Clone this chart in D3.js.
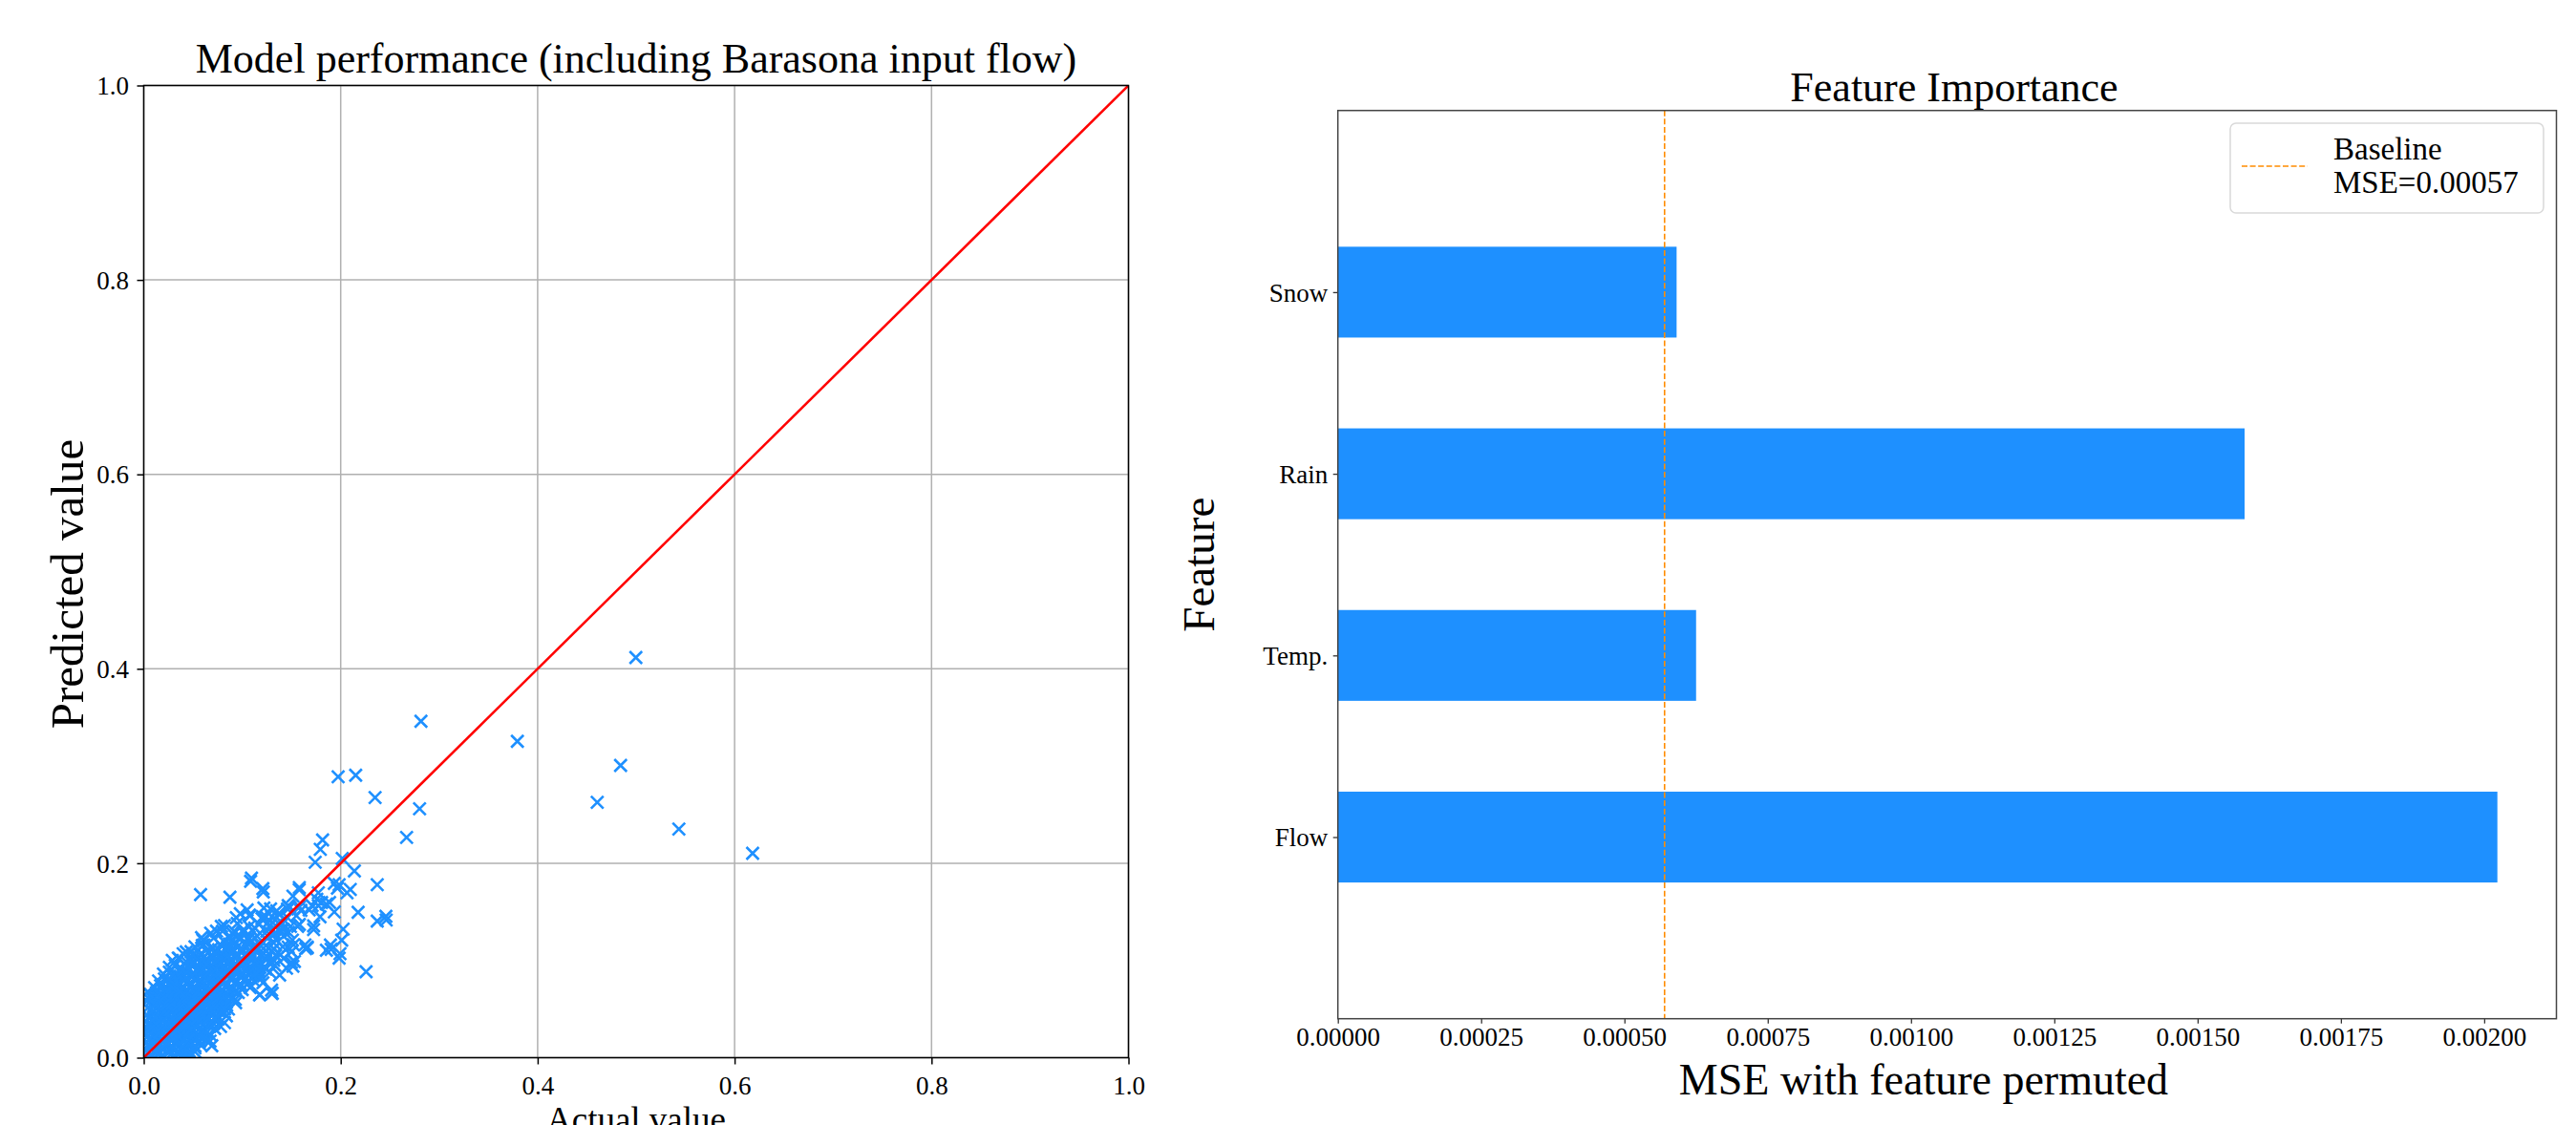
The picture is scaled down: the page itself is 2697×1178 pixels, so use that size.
<!DOCTYPE html>
<html>
<head>
<meta charset="utf-8">
<script src="https://cdn.jsdelivr.net/npm/d3@7"></script>
<style>
  body { margin: 0; background: #ffffff; }
  text { font-family: "Liberation Serif", "Times New Roman", serif; fill: #000; }
</style>
</head>
<body>
<div id="grafico"></div>
<script>
// ---- Datos ----
// Puntos [valor real, valor predicho]
const scatterPoints = [
  // nube densa cerca del origen
  [.002,.003],[.008,.001],[.014,.004],[.019,.002],[.025,.005],[.031,.002],[.036,.004],[.042,.001],[.047,.003],[.052,.006],
  [.001,.009],[.006,.011],[.012,.008],[.018,.010],[.023,.012],[.029,.009],[.035,.011],[.041,.008],[.046,.012],[.052,.010],[.058,.013],
  [.003,.016],[.009,.018],[.015,.015],[.021,.017],[.027,.019],[.033,.016],[.039,.018],[.045,.015],[.051,.019],[.057,.017],[.064,.020],
  [.001,.023],[.007,.025],[.013,.022],[.019,.024],[.025,.026],[.031,.023],[.037,.025],[.043,.022],[.049,.026],[.055,.024],[.061,.027],[.068,.023],
  [.004,.030],[.010,.032],[.016,.029],[.022,.031],[.028,.033],[.034,.030],[.040,.032],[.046,.029],[.052,.033],[.058,.031],[.065,.034],[.072,.030],[.078,.032],
  [.002,.037],[.008,.039],[.014,.036],[.020,.038],[.026,.040],[.032,.037],[.038,.039],[.044,.036],[.050,.040],[.056,.038],[.062,.041],[.069,.037],[.076,.040],[.082,.036],
  [.003,.044],[.009,.046],[.015,.043],[.021,.045],[.027,.047],[.033,.044],[.039,.046],[.045,.043],[.051,.047],[.057,.045],[.063,.048],[.070,.044],[.077,.047],[.084,.043],
  [.004,.051],[.010,.053],[.017,.050],[.023,.052],[.029,.054],[.035,.051],[.041,.053],[.047,.050],[.053,.054],[.059,.052],[.065,.055],[.071,.051],[.078,.054],[.086,.050],
  [.003,.058],[.009,.060],[.016,.057],[.022,.059],[.028,.061],[.034,.058],[.040,.060],[.046,.057],[.052,.061],[.058,.059],[.064,.062],[.070,.058],[.077,.061],[.084,.057],[.093,.060],
  [.007,.065],[.013,.067],[.019,.064],[.025,.066],[.031,.068],[.037,.065],[.043,.067],[.049,.064],[.055,.068],[.061,.066],[.067,.069],[.073,.065],[.080,.068],[.087,.064],[.096,.067],[.118,.065],[.130,.066],
  [.011,.072],[.017,.074],[.023,.071],[.029,.073],[.035,.075],[.041,.072],[.047,.074],[.053,.071],[.059,.075],[.065,.073],[.071,.076],[.077,.072],[.084,.075],[.091,.071],[.099,.074],[.108,.072],
  [.015,.079],[.021,.081],[.027,.078],[.033,.080],[.039,.082],[.045,.079],[.051,.081],[.057,.078],[.063,.082],[.069,.080],[.075,.083],[.081,.079],[.088,.082],[.095,.078],[.103,.081],[.112,.079],[.121,.077],
  [.020,.086],[.026,.088],[.032,.085],[.038,.087],[.044,.089],[.050,.086],[.056,.088],[.062,.085],[.068,.089],[.074,.087],[.080,.090],[.086,.086],[.093,.089],[.100,.085],[.108,.088],[.117,.086],[.128,.088],[.138,.085],
  [.026,.093],[.032,.095],[.038,.092],[.044,.094],[.050,.096],[.056,.093],[.062,.095],[.068,.092],[.074,.096],[.080,.094],[.086,.097],[.092,.093],[.099,.096],[.106,.092],[.114,.095],[.123,.093],[.133,.095],[.145,.092],
  [.029,.100],[.036,.102],[.043,.099],[.049,.101],[.056,.103],[.063,.100],[.070,.102],[.077,.099],[.083,.103],[.089,.101],[.095,.104],[.101,.100],[.108,.103],[.115,.099],[.123,.102],[.132,.100],[.142,.102],[.153,.099],
  [.040,.107],[.048,.109],[.057,.106],[.065,.108],[.073,.110],[.080,.107],[.087,.109],[.094,.106],[.101,.110],[.108,.108],[.115,.111],[.122,.107],[.130,.110],[.139,.106],[.150,.109],
  [.052,.114],[.061,.116],[.070,.113],[.079,.115],[.087,.117],[.095,.114],[.103,.116],[.110,.113],[.117,.117],[.124,.115],[.132,.118],[.141,.114],[.152,.116],[.166,.113],
  [.060,.121],[.071,.123],[.081,.120],[.090,.122],[.098,.124],[.106,.121],[.113,.123],[.120,.120],[.127,.124],[.134,.122],[.142,.125],[.151,.121],
  [.068,.128],[.080,.130],[.091,.127],[.101,.129],[.110,.131],[.118,.128],[.125,.130],[.132,.127],[.139,.131],[.147,.129],
  [.082,.136],[.095,.138],[.107,.135],[.117,.137],[.126,.139],[.134,.136],[.141,.138],[.149,.135],[.158,.137],
  [.094,.144],[.108,.146],[.120,.143],[.130,.145],[.138,.147],[.146,.144],[.155,.146],
  [.105,.152],[.122,.154],[.135,.151],[.146,.153],[.158,.155],[.168,.152],
  // nucleo de la nube (puntos intercalados)
  [.005,.005],[.011,.007],[.017,.005],[.023,.007],[.029,.005],[.035,.007],[.041,.005],[.046,.007],
  [.004,.013],[.010,.014],[.016,.012],[.022,.014],[.028,.012],[.034,.014],[.040,.012],[.046,.014],[.052,.012],
  [.006,.020],[.012,.021],[.018,.019],[.024,.021],[.030,.019],[.036,.021],[.042,.019],[.048,.021],[.054,.019],[.059,.021],
  [.004,.027],[.010,.028],[.016,.026],[.022,.028],[.028,.026],[.034,.028],[.041,.026],[.047,.028],[.053,.026],[.059,.028],[.064,.026],
  [.006,.034],[.012,.035],[.019,.033],[.025,.035],[.031,.033],[.037,.035],[.043,.033],[.049,.035],[.055,.033],[.061,.035],[.067,.033],[.071,.035],
  [.006,.041],[.012,.042],[.018,.040],[.024,.042],[.030,.040],[.036,.042],[.042,.040],[.048,.042],[.054,.040],[.060,.042],[.066,.040],[.073,.042],
  [.009,.048],[.015,.049],[.021,.047],[.027,.049],[.033,.047],[.040,.049],[.046,.047],[.052,.049],[.058,.047],[.064,.049],[.070,.047],[.076,.049],[.081,.047],
  [.011,.055],[.017,.056],[.023,.054],[.029,.056],[.035,.054],[.041,.056],[.047,.054],[.053,.056],[.059,.054],[.065,.056],[.071,.054],[.077,.056],[.084,.054],
  [.015,.062],[.021,.063],[.027,.061],[.033,.063],[.039,.061],[.045,.063],[.051,.061],[.057,.063],[.063,.061],[.069,.063],[.075,.061],[.082,.063],[.089,.061],
  [.019,.069],[.025,.070],[.031,.068],[.037,.070],[.043,.068],[.049,.070],[.055,.068],[.061,.070],[.067,.068],[.073,.070],[.079,.068],[.086,.070],[.093,.068],[.100,.070],
  [.025,.076],[.031,.077],[.037,.075],[.043,.077],[.049,.075],[.055,.077],[.061,.075],[.067,.077],[.073,.075],[.079,.077],[.085,.075],[.092,.077],[.099,.075],[.106,.077],
  [.031,.083],[.037,.084],[.043,.082],[.049,.084],[.055,.082],[.061,.084],[.067,.082],[.073,.084],[.079,.082],[.085,.084],[.091,.082],[.097,.084],[.104,.082],[.111,.084],[.118,.082],
  [.040,.090],[.047,.091],[.054,.089],[.061,.091],[.067,.089],[.073,.091],[.079,.089],[.085,.091],[.091,.089],[.097,.091],[.103,.089],[.110,.091],[.117,.089],[.124,.091],
  [.050,.097],[.057,.098],[.064,.096],[.071,.098],[.078,.096],[.085,.098],[.092,.096],[.099,.098],[.106,.096],[.113,.098],[.120,.096],[.127,.098],
  [.062,.104],[.070,.105],[.078,.103],[.086,.105],[.094,.103],[.102,.105],[.110,.103],[.118,.105],[.126,.103],[.134,.105],
  [.076,.111],[.084,.112],[.092,.110],[.100,.112],[.108,.110],[.116,.112],[.124,.110],[.132,.112],
  // borde de la nube
  [.0044,.0614],[.0351,.1024],[.0432,.1088],[.0497,.1056],[.0594,.1154],[.0723,.1073],[.0852,.1138],[.0917,.1171],[.0981,.1105],
  [.0254,.081],[.0286,.0729],[.0367,.068],[.1515,.0941],[.1467,.1138],[.166,.1138],[.1305,.0663],[.1176,.0646],[.0933,.0565],
  [.082,.0499],[.0691,.0123],[.0561,.0221],[.0642,.0172],[.048,.0041],[.0723,.0401],[.1855,.1105],
  [.1085,.1815],[.1214,.1704],[.0981,.1481],[.1072,.1466],[.1288,.153],[.137,.1481],[.124,.1449],[.1467,.1564],[.0788,.1351],
  [.0739,.1302],[.0917,.1302],[.1014,.1318],[.1127,.1334],[.0885,.1236],[.0981,.122],[.1062,.1236],[.137,.1383],[.1418,.1318],
  [.1563,.1351],[.0609,.1203],[.1208,.1449],[.1273,.1351],
  [.1935,.1793],[.1967,.1744],[.2064,.1695],[.1773,.1695],[.1579,.1727],[.1515,.1662],[.1757,.1629],[.1806,.1596],[.1855,.158],
  [.1887,.1596],[.1773,.1564],[.1709,.1564],[.1596,.1515],[.179,.1449],[.1482,.1547],[.1725,.1318],[.1644,.1122],[.1903,.1115],
  [.1984,.1024],[.2462,.1416],
  // puntos aislados
  [.2815,.346],[.1974,.289],[.2152,.2905],[.2349,.2675],[.2801,.256],[.2669,.2266],[.1816,.224],[.1793,.2142],[.1741,.201],
  [.2016,.205],[.2139,.192],[.2371,.178],[.2097,.173],[.1984,.178],[.2177,.1496],[.2371,.1405],[.2459,.1454],[.2258,.0884],
  [.2025,.1323],[.201,.1208],[.1993,.107],[.1896,.1159],[.1094,.1847],[.121,.1739],[.0577,.1677],[.0875,.165],[.158,.175],
  [.1935,.150],[.1725,.1356],[.1637,.116],[.1499,.098],[.1298,.0695],[.0674,.017],[.0037,.0675],[.0587,.1235],
  [.4997,.4116],[.3794,.3254],[.4842,.3006],[.4605,.2626],[.5434,.2351],[.6183,.2102]
];
const identityLine = [0, 1];
const scatterTicks = [0, 0.2, 0.4, 0.6, 0.8, 1.0];

// Importancia de variables (MSE con la variable permutada)
const featureNames = ["Flow", "Temp.", "Rain", "Snow"];
const featureMSE = [0.002023, 0.000625, 0.001582, 0.000591];
const baselineMSE = 0.00057;
const mseTicks = [0, 0.00025, 0.0005, 0.00075, 0.001, 0.00125, 0.0015, 0.00175, 0.002];
const mseMax = 0.002126;

const BLUE = "#1e90ff";

const svg = d3
  .select("#grafico")
  .append("svg")
  .attr("width", 2697)
  .attr("height", 1178);

// ---------------- Grafico de dispersion (izquierda) ----------------
function Scatter(points) {
  const margin = { left: 150.5, top: 89.5 },
    width = 1031,
    height = 1018;

  const g = svg
    .append("g")
    .attr("transform", "translate(" + margin.left + "," + margin.top + ")");

  const x = d3.scaleLinear().domain([0, 1]).range([0, width]);
  const y = d3.scaleLinear().domain([0, 1]).range([height, 0]);

  // Rejilla
  g.selectAll(".vgrid")
    .data(scatterTicks)
    .enter()
    .append("line")
    .attr("x1", (d) => x(d))
    .attr("x2", (d) => x(d))
    .attr("y1", 0)
    .attr("y2", height)
    .style("stroke", "#b0b0b0")
    .style("stroke-width", "1.5px");
  g.selectAll(".hgrid")
    .data(scatterTicks)
    .enter()
    .append("line")
    .attr("x1", 0)
    .attr("x2", width)
    .attr("y1", (d) => y(d))
    .attr("y2", (d) => y(d))
    .style("stroke", "#b0b0b0")
    .style("stroke-width", "1.5px");

  g.append("clipPath")
    .attr("id", "clipScatter")
    .append("rect")
    .attr("width", width)
    .attr("height", height);

  const plot = g.append("g").attr("clip-path", "url(#clipScatter)");

  // Marcadores en forma de "x"
  plot
    .selectAll(".punto")
    .data(points)
    .enter()
    .append("path")
    .attr("class", "punto")
    .attr("transform", (d) => "translate(" + x(d[0]) + "," + y(d[1]) + ")")
    .attr("d", "M-6.5,-6.5L6.5,6.5M-6.5,6.5L6.5,-6.5")
    .style("stroke", BLUE)
    .style("stroke-width", "2.6px")
    .style("fill", "none");

  // Linea y = x
  plot
    .append("line")
    .attr("x1", x(identityLine[0]))
    .attr("y1", y(identityLine[0]))
    .attr("x2", x(identityLine[1]))
    .attr("y2", y(identityLine[1]))
    .style("stroke", "#ff0000")
    .style("stroke-width", "2.6px");

  // Ejes
  const xAxis = g
    .append("g")
    .attr("transform", "translate(0," + height + ")")
    .call(
      d3.axisBottom(x).tickValues(scatterTicks).tickFormat(d3.format(".1f")).tickSize(7).tickPadding(12.5)
    );
  const yAxis = g
    .append("g")
    .call(
      d3.axisLeft(y).tickValues(scatterTicks).tickFormat(d3.format(".1f")).tickSize(7).tickPadding(8.5)
    );
  [xAxis, yAxis].forEach(function (a) {
    a.select(".domain").remove();
    a.selectAll("line").style("stroke", "#000").style("stroke-width", "1.5px");
    a.selectAll("text").style("font-size", "27px").attr("fill", "#000");
  });
  yAxis.selectAll("text").attr("dy", "0.34em");

  g.append("rect")
    .attr("width", width)
    .attr("height", height)
    .style("fill", "none")
    .style("stroke", "#000")
    .style("stroke-width", "1.5px");

  // Titulo y etiquetas
  g.append("text")
    .attr("x", width / 2)
    .attr("y", -14)
    .attr("text-anchor", "middle")
    .style("font-size", "44px")
    .text("Model performance (including Barasona input flow)");
  g.append("text")
    .attr("x", width / 2)
    .attr("y", height + 77)
    .attr("text-anchor", "middle")
    .style("font-size", "37px")
    .text("Actual value");
  g.append("text")
    .attr("transform", "translate(" + -64 + "," + (height / 2 + 13) + ") rotate(-90)")
    .attr("text-anchor", "middle")
    .style("font-size", "49px")
    .text("Predicted value");
}

// ---------------- Grafico de barras (derecha) ----------------
function FeatureBars(names, values) {
  const margin = { left: 1400.7, top: 115.7 },
    width = 1275.8,
    height = 951;

  const g = svg
    .append("g")
    .attr("transform", "translate(" + margin.left + "," + margin.top + ")");

  const x = d3.scaleLinear().domain([0, mseMax]).range([0, width]);
  const y = d3.scaleLinear().domain([-1, 4]).range([height, 0]);
  const barH = y(0) - y(0.5);

  g.selectAll(".bar")
    .data(values)
    .enter()
    .append("rect")
    .attr("class", "bar")
    .attr("x", x(0))
    .attr("y", (d, i) => y(i + 0.25))
    .attr("width", (d) => x(d) - x(0))
    .attr("height", barH)
    .style("fill", BLUE);

  // Linea de referencia (MSE base)
  g.append("line")
    .attr("x1", x(baselineMSE))
    .attr("x2", x(baselineMSE))
    .attr("y1", 0)
    .attr("y2", height)
    .style("stroke", "#ff8c00")
    .style("stroke-width", "1.6px")
    .style("stroke-dasharray", "6,2.6");

  const xAxis = g
    .append("g")
    .attr("transform", "translate(0," + height + ")")
    .call(
      d3.axisBottom(x).tickValues(mseTicks).tickFormat(d3.format(".5f")).tickSize(5).tickPadding(4)
    );
  const yAxis = g
    .append("g")
    .call(
      d3.axisLeft(y)
        .tickValues(d3.range(names.length))
        .tickFormat((d) => names[d])
        .tickSize(5)
        .tickPadding(5.5)
    );
  [xAxis, yAxis].forEach(function (a) {
    a.select(".domain").remove();
    a.selectAll("line").style("stroke", "#333").style("stroke-width", "1.3px");
    a.selectAll("text").style("font-size", "27px").attr("fill", "#000");
  });
  yAxis.selectAll("text").attr("dy", "0.34em");

  g.append("rect")
    .attr("width", width)
    .attr("height", height)
    .style("fill", "none")
    .style("stroke", "#444")
    .style("stroke-width", "1.5px");

  // Leyenda
  const legend = g.append("g").attr("transform", "translate(" + (2335 - margin.left) + "," + (129 - margin.top) + ")");
  legend
    .append("rect")
    .attr("width", 328)
    .attr("height", 94)
    .attr("rx", 6)
    .style("fill", "#fff")
    .style("stroke", "#d9d9d9")
    .style("stroke-width", "1.5px");
  legend
    .append("line")
    .attr("x1", 12)
    .attr("x2", 81)
    .attr("y1", 45)
    .attr("y2", 45)
    .style("stroke", "#ff8c00")
    .style("stroke-width", "1.6px")
    .style("stroke-dasharray", "6,2.6");
  legend
    .append("text")
    .attr("x", 108)
    .attr("y", 38)
    .style("font-size", "33px")
    .text("Baseline");
  legend
    .append("text")
    .attr("x", 108)
    .attr("y", 73)
    .style("font-size", "33px")
    .text("MSE=" + baselineMSE.toFixed(5));

  // Titulo y etiquetas
  g.append("text")
    .attr("x", 2046 - margin.left)
    .attr("y", -10)
    .attr("text-anchor", "middle")
    .style("font-size", "44px")
    .text("Feature Importance");
  g.append("text")
    .attr("x", 2014 - margin.left)
    .attr("y", height + 79)
    .attr("text-anchor", "middle")
    .style("font-size", "46px")
    .text("MSE with feature permuted");
  g.append("text")
    .attr("transform", "translate(" + (1271 - margin.left) + "," + height / 2 + ") rotate(-90)")
    .attr("text-anchor", "middle")
    .style("font-size", "47px")
    .text("Feature");
}

Scatter(scatterPoints);
FeatureBars(featureNames, featureMSE);
</script>
</body>
</html>
